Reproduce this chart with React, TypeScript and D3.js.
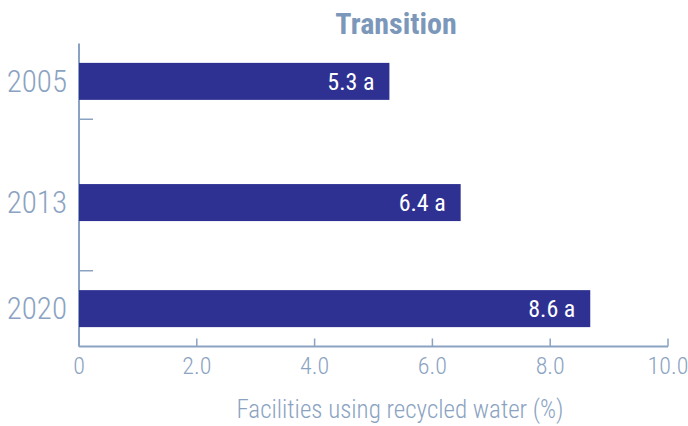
import { useEffect, useRef } from 'react';
import * as d3 from 'd3';

// years on a linear scale, as in the original
const years = [2005, 2013, 2020];
const values = [5.27, 6.48, 8.68];
const valueLabels = ['5.3 a', '6.4 a', '8.6 a'];
const xTicks = [0, 2, 4, 6, 8, 10];
const xTickLabels = ['0', '2.0', '4.0', '6.0', '8.0', '10.0'];
const yTicks = [2002.5, 2007.5, 2012.5, 2017.5, 2022.5];

const title = 'Transition';
const xTitle = 'Facilities using recycled water (%)';

const width = 688;
const height = 426;
const FONT = "'Liberation Sans Narrow', 'Roboto Condensed', 'Arial Narrow', 'Liberation Sans', sans-serif";
const AXIS = '#8ba3c2';
const BAR = '#2e3192';

export default function App() {
  const svgRef = useRef<SVGSVGElement>(null);

  useEffect(() => {
    if (!svgRef.current) return;
    const svg = d3.select(svgRef.current);
    svg.selectAll('*').remove();

    const x = d3.scaleLinear().domain([0, 10]).range([79, 668]);
    const y = d3.scaleLinear().domain([2002.5, 2022.5]).range([43.5, 346.5]);
    const barH = 37;

    const g = svg.append('g').attr('font-family', FONT);

    // title
    g.append('text')
      .attr('x', 396)
      .attr('y', 34)
      .attr('text-anchor', 'middle')
      .attr('font-size', 30)
      .attr('font-weight', 'bold')
      .attr('fill', '#7b97ba')
      .text(title);

    // x axis
    const xAxis = g.append('g').attr('transform', `translate(0,${y(2022.5)})`);
    xAxis.append('line')
      .attr('x1', x(0)).attr('x2', x(10))
      .attr('stroke', AXIS).attr('stroke-width', 2);
    xAxis.selectAll('.xt')
      .data(xTicks)
      .enter().append('line')
      .attr('x1', d => x(d)).attr('x2', d => x(d))
      .attr('y1', 0).attr('y2', -8)
      .attr('stroke', AXIS).attr('stroke-width', 1.5);
    xAxis.selectAll('.xl')
      .data(xTicks)
      .enter().append('text')
      .attr('x', d => x(d))
      .attr('y', 27)
      .attr('text-anchor', 'middle')
      .attr('font-size', 24)
      .attr('font-weight', 300)
      .attr('fill', AXIS)
      .text((d, i) => xTickLabels[i]);

    g.append('text')
      .attr('x', 400)
      .attr('y', 418)
      .attr('text-anchor', 'middle')
      .attr('font-size', 25)
      .attr('font-weight', 300)
      .attr('fill', AXIS)
      .text(xTitle);

    // y axis
    const yAxis = g.append('g').attr('transform', `translate(${x(0)},0)`);
    yAxis.append('line')
      .attr('y1', y(2002.5)).attr('y2', y(2022.5))
      .attr('stroke', AXIS).attr('stroke-width', 2);
    yAxis.selectAll('.yt')
      .data(yTicks.slice(1, -1))
      .enter().append('line')
      .attr('x1', 0).attr('x2', 14)
      .attr('y1', d => y(d)).attr('y2', d => y(d))
      .attr('stroke', AXIS).attr('stroke-width', 1.5);
    yAxis.selectAll('.yl')
      .data(years)
      .enter().append('text')
      .attr('x', -12)
      .attr('y', d => y(d))
      .attr('dy', '0.35em')
      .attr('text-anchor', 'end')
      .attr('font-size', 31)
      .attr('font-weight', 300)
      .attr('fill', AXIS)
      .text(d => String(d));

    // bars
    g.selectAll('.bar')
      .data(years)
      .enter().append('rect')
      .attr('x', x(0))
      .attr('y', d => y(d) - barH / 2)
      .attr('width', (d, i) => x(values[i]) - x(0))
      .attr('height', barH)
      .attr('fill', BAR);

    g.selectAll('.val')
      .data(years)
      .enter().append('text')
      .attr('x', (d, i) => x(values[i]) - 15)
      .attr('y', d => y(d))
      .attr('dy', '0.36em')
      .attr('text-anchor', 'end')
      .attr('font-size', 24)
      .attr('fill', '#fff')
      .text((d, i) => valueLabels[i]);
  }, []);

  return (
    <svg
      ref={svgRef}
      width={width}
      height={height}
      style={{ position: 'absolute', left: 0, top: 0, background: '#fff' }}
    />
  );
}
